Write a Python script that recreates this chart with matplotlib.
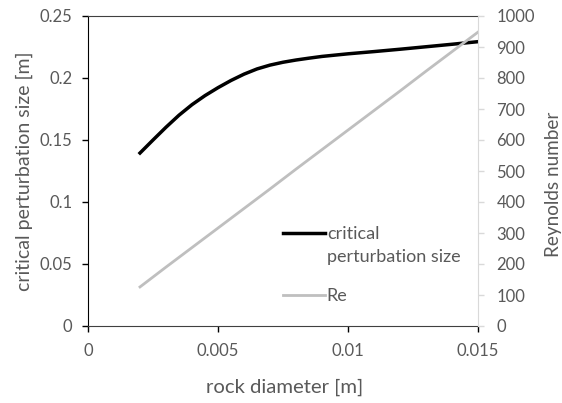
import matplotlib.pyplot as plt

plt.rcParams['font.family'] = ['Lato', 'DejaVu Sans']

# rock diameter [m] and critical perturbation size [m]
crit_d = [0.002, 0.0025, 0.003, 0.0035, 0.004, 0.0045, 0.005, 0.0055,
          0.006, 0.0065, 0.007, 0.0075, 0.008, 0.0085, 0.009, 0.010,
          0.011, 0.012, 0.013, 0.014, 0.015]
crit = [0.1395, 0.1500, 0.1603, 0.1700, 0.1785, 0.1858, 0.1922, 0.1980,
        0.2031, 0.2073, 0.2104, 0.2127, 0.2145, 0.2160, 0.2174, 0.2195,
        0.2213, 0.2232, 0.2252, 0.2272, 0.2293]
# rock diameter [m] and Reynolds number
re_d = [0.002, 0.003, 0.004, 0.005, 0.006, 0.007, 0.008, 0.009, 0.010,
        0.011, 0.012, 0.013, 0.014, 0.015]
re = [126, 190, 253, 316, 379, 442, 506, 569, 632, 695, 758, 822, 885, 948]

txt = '#595959'

fig = plt.figure(figsize=(5.62, 4.03), dpi=100)
ax = fig.add_axes([88/562, 1-326/403, 390/562, 310/403])
ax2 = ax.twinx()

l1, = ax.plot(crit_d, crit, color='black', lw=2.5, solid_joinstyle='round')
l2, = ax2.plot(re_d, re, color='#bfbfbf', lw=2.0)

ax.set_xlim(0, 0.015)
ax.set_ylim(0, 0.25)
ax2.set_ylim(0, 1000)
ax.set_xticks([0, 0.005, 0.01, 0.015])
ax.set_xticklabels(['0', '0.005', '0.01', '0.015'])
ax.set_yticks([0, 0.05, 0.1, 0.15, 0.2, 0.25])
ax.set_yticklabels(['0', '0.05', '0.1', '0.15', '0.2', '0.25'])
ax2.set_yticks(range(0, 1001, 100))

ax.spines['left'].set_color('black')
ax.spines['bottom'].set_color('#404040')
ax.spines['top'].set_color('#404040')
ax.spines['top'].set_linewidth(0.8)
ax.spines['right'].set_visible(False)
ax2.spines['right'].set_color('#d9d9d9')
for s in ['left', 'bottom', 'top']:
    ax2.spines[s].set_visible(False)

ax.tick_params(axis='both', direction='out', length=4.3, width=1,
               color='black', labelcolor=txt, labelsize=12)
ax.tick_params(axis='y', pad=7)
ax.tick_params(axis='x', pad=8)
ax2.tick_params(axis='y', direction='out', length=4.3, width=1,
                color='#d9d9d9', labelcolor=txt, labelsize=12, pad=9)

ax.set_xlabel('rock diameter [m]', color=txt, fontsize=14.6)
ax.xaxis.set_label_coords(0.505, -0.17)
ax.set_ylabel('critical perturbation size [m]', color=txt, fontsize=14.0)
ax.yaxis.set_label_coords(-0.141, 0.5)
ax2.set_ylabel('Reynolds number', color=txt, fontsize=13.6)
ax2.yaxis.set_label_coords(1.172, 0.458)

leg = ax.legend([l1, l2], ['critical', 'Re'], loc='upper left',
                bbox_to_anchor=(0.5, 0.322), borderaxespad=0, borderpad=0,
                frameon=False, fontsize=13, handlelength=2.35,
                handletextpad=0.08, labelspacing=2.53, labelcolor=txt)

# second line of the first legend label sits under "critical"
fig.canvas.draw()
bb = leg.get_texts()[0].get_window_extent()
bb = bb.transformed(ax.transAxes.inverted())
ax.text(bb.x0, (bb.y0 + bb.y1) / 2 - 23 / 310, 'perturbation size',
        transform=ax.transAxes, va='center', ha='left', color=txt,
        fontsize=13)

fig.savefig('out.png', dpi=100)
